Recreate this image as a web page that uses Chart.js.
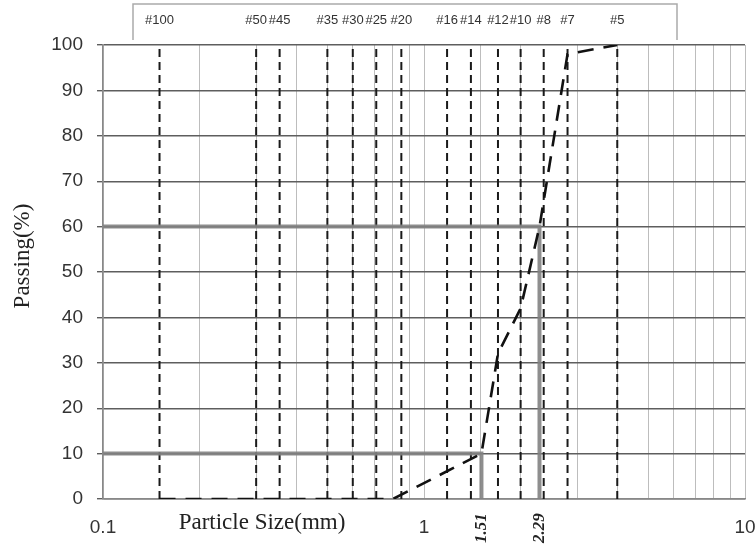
<!DOCTYPE html>
<html>
<head>
<meta charset="utf-8">
<script src="https://cdn.jsdelivr.net/npm/chart.js@4.4.0/dist/chart.umd.min.js"></script>
<style>
  html, body { margin: 0; padding: 0; background: #fff; }
  #wrap { width: 756px; height: 545px; }
</style>
</head>
<body>
<div id="wrap"><canvas id="chart"></canvas></div>
<script>
// Tamices (nombre y abertura en mm)
const sieveNames = ["#100", "#50", "#45", "#35", "#30", "#25", "#20", "#16", "#14", "#12", "#10", "#8", "#7", "#5"];
const sieveSizes = [0.15, 0.3, 0.355, 0.5, 0.6, 0.71, 0.85, 1.18, 1.4, 1.7, 2.0, 2.36, 2.8, 4.0];

// Curva granulométrica
const curveSize = [0.15, 0.8, 1.51, 1.7, 2.0, 2.29, 2.8, 4.0];
const curvePassing = [0, 0, 10, 32, 42, 60, 98, 100];

// D10 y D60
const dLabels = ["1.51", "2.29"];
const dSizes = [1.51, 2.29];
const dPassing = [10, 60];

const yTicks = [0, 10, 20, 30, 40, 50, 60, 70, 80, 90, 100];

const datasets = [];

datasets.push({
    data: curveSize.map((s, i) => ({ x: s, y: curvePassing[i] })),
    borderColor: "#111",
    borderWidth: 2.6,
    borderDash: [16, 10],
    pointRadius: 0,
    showLine: true,
    order: 0
});

dSizes.forEach((s, i) => {
    datasets.push({
        data: [{ x: 0.1, y: dPassing[i] }, { x: s, y: dPassing[i] }, { x: s, y: 0 }],
        borderColor: "rgba(130,130,130,0.9)",
        borderWidth: 4,
        pointRadius: 0,
        showLine: true,
        order: 1
    });
});

sieveSizes.forEach(s => {
    datasets.push({
        data: [{ x: s, y: 0 }, { x: s, y: 100 }],
        borderColor: "#1a1a1a",
        borderWidth: 2,
        borderDash: [8, 5],
        pointRadius: 0,
        showLine: true,
        order: 2
    });
});

// Textos extra: recuadro de tamices, etiquetas D10/D60 y títulos de ejes
const textPlugin = {
    id: "textPlugin",
    afterDraw(chart) {
        const ctx = chart.ctx;
        const x = chart.scales.x;
        ctx.save();

        // recuadro superior
        ctx.strokeStyle = "#aaa";
        ctx.lineWidth = 1.5;
        ctx.beginPath();
        ctx.moveTo(133, 40);
        ctx.lineTo(133, 4);
        ctx.lineTo(677, 4);
        ctx.lineTo(677, 40);
        ctx.stroke();

        ctx.fillStyle = "#333";
        ctx.font = "13px 'Liberation Sans', Arial, sans-serif";
        ctx.textAlign = "center";
        ctx.textBaseline = "middle";
        sieveNames.forEach((n, i) => {
            ctx.fillText(n, x.getPixelForValue(sieveSizes[i]), 20);
        });

        // etiquetas D10 / D60 giradas
        ctx.font = "bold italic 17px 'Liberation Serif', 'Times New Roman', serif";
        ctx.fillStyle = "#222";
        dLabels.forEach((t, i) => {
            ctx.save();
            ctx.translate(x.getPixelForValue(dSizes[i]), 528);
            ctx.rotate(-Math.PI / 2);
            ctx.fillText(t, 0, 0);
            ctx.restore();
        });

        // títulos de ejes
        ctx.font = "23px 'Liberation Serif', 'Times New Roman', serif";
        ctx.fillStyle = "#222";
        ctx.fillText("Particle Size(mm)", 262, 523);
        ctx.save();
        ctx.translate(23, 256);
        ctx.rotate(-Math.PI / 2);
        ctx.fillText("Passing(%)", 0, 0);
        ctx.restore();

        ctx.restore();
    }
};

new Chart(document.getElementById("chart"), {
    type: "scatter",
    data: { datasets: datasets },
    options: {
        responsive: true,
        maintainAspectRatio: false,
        animation: false,
        devicePixelRatio: 1,
        layout: { padding: { top: 45, right: 11, left: 0, bottom: 0 } },
        plugins: {
            legend: { display: false },
            tooltip: { enabled: false }
        },
        scales: {
            x: {
                type: "logarithmic",
                min: 0.1,
                max: 10,
                grid: { color: "#bdbdbd", lineWidth: 1, drawTicks: false },
                border: { display: true, color: "#888", width: 1.5 },
                ticks: {
                    autoSkip: false,
                    maxRotation: 0,
                    padding: 17,
                    color: "#333",
                    font: { family: "'Liberation Sans', Arial, sans-serif", size: 19 },
                    callback: function (v) {
                        const l = Math.log10(v);
                        return Math.abs(l - Math.round(l)) < 1e-6 ? String(Math.round(v * 10) / 10) : "";
                    }
                },
                afterFit: s => { s.height = 46; s.paddingLeft = 0; s.paddingRight = 0; }
            },
            y: {
                min: 0,
                max: 100,
                afterBuildTicks: s => { s.ticks = yTicks.map(v => ({ value: v })); },
                grid: { color: "#5e5e5e", lineWidth: 1.4, tickLength: 6 },
                border: { display: true, color: "#888", width: 1.5 },
                ticks: {
                    padding: 14,
                    color: "#333",
                    font: { family: "'Liberation Sans', Arial, sans-serif", size: 19 }
                },
                afterFit: s => { s.width = 103; s.paddingTop = 0; s.paddingBottom = 0; }
            }
        }
    },
    plugins: [textPlugin]
});
</script>
</body>
</html>
